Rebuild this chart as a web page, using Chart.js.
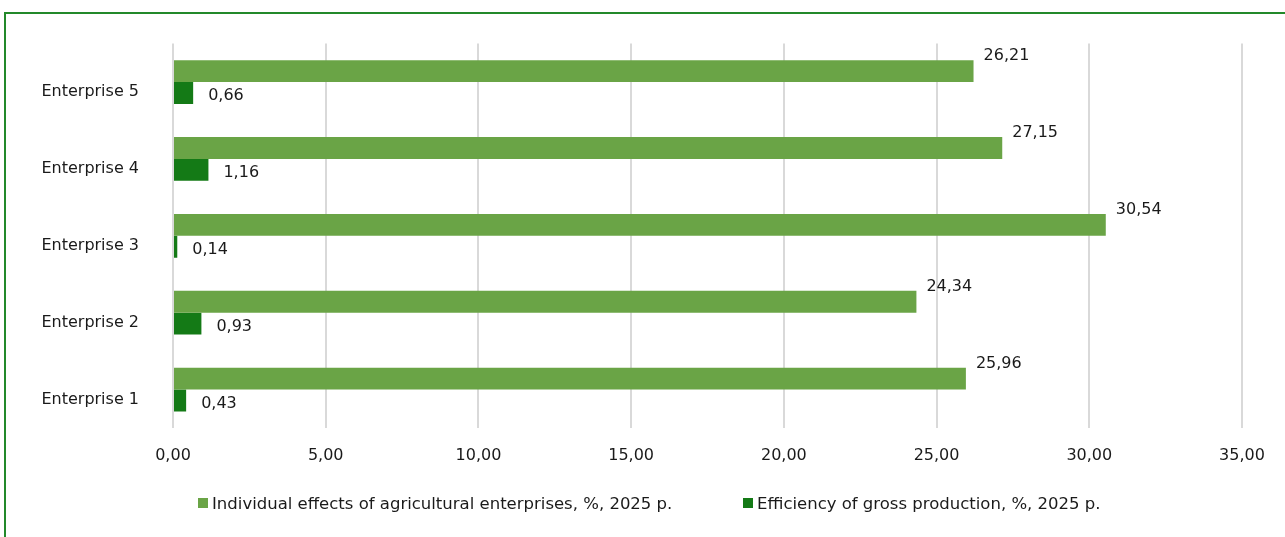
<!DOCTYPE html>
<html>
<head>
<meta charset="utf-8">
<script src="https://cdn.jsdelivr.net/npm/chart.js@4.4.1/dist/chart.umd.min.js"></script>
<style>
  html, body { margin: 0; padding: 0; background: #fff; overflow: hidden; }
  #wrap { position: relative; width: 1285px; height: 537px; }
  #frame { position: absolute; left: 4px; top: 12px; width: 1400px; height: 700px;
           border-left: 2px solid #23892a; border-top: 2px solid #23892a; box-sizing: border-box; }
  #chart { position: absolute; left: 0; top: 0; }
  #legend { position: absolute; top: 493px; left: 0; width: 1285px; height: 20px;
            font: 16.5px "DejaVu Sans", sans-serif; color: #1a1a1a; }
  .lg-item { position: absolute; top: 0; display: flex; align-items: center; height: 20px; white-space: nowrap; }
  .lg-box { width: 10px; height: 10px; margin-right: 4px; }
</style>
</head>
<body>
<div id="wrap">
  <div id="frame"></div>
  <canvas id="chart" width="1285" height="537"></canvas>
  <div id="legend"></div>
</div>
<script>
// categories, top to bottom as in the picture
const categories = ['Enterprise 5', 'Enterprise 4', 'Enterprise 3', 'Enterprise 2', 'Enterprise 1'];
const individualEffects = [26.21, 27.15, 30.54, 24.34, 25.96];
const grossEfficiency = [0.66, 1.16, 0.14, 0.93, 0.43];
const xTicks = [0, 5, 10, 15, 20, 25, 30, 35];

const seriesNames = [
    'Individual effects of agricultural enterprises, %, 2025 p.',
    'Efficiency of gross production, %, 2025 p.'
];
const seriesColors = ['#6aa446', '#147a16'];

const FONT = '"DejaVu Sans", sans-serif';
const fmt = v => v.toFixed(2).replace('.', ',');

// value labels next to the bar ends
const valueLabels = {
    id: 'valueLabels',
    afterDatasetsDraw(chart) {
        const ctx = chart.ctx;
        ctx.save();
        ctx.font = '16px ' + FONT;
        ctx.fillStyle = '#1a1a1a';
        ctx.textAlign = 'left';
        ctx.textBaseline = 'middle';
        chart.data.datasets.forEach((ds, di) => {
            const meta = chart.getDatasetMeta(di);
            const dx = di === 0 ? 10 : 15;
            const dy = di === 0 ? -15 : 3;
            meta.data.forEach((bar, i) => {
                ctx.fillText(fmt(ds.data[i]), bar.x + dx, bar.y + dy);
            });
        });
        ctx.restore();
    }
};

const chart = new Chart(document.getElementById('chart'), {
    type: 'bar',
    data: {
        labels: categories,
        datasets: [
            { label: seriesNames[0], data: individualEffects, backgroundColor: seriesColors[0] },
            { label: seriesNames[1], data: grossEfficiency, backgroundColor: seriesColors[1] }
        ]
    },
    options: {
        indexAxis: 'y',
        responsive: false,
        animation: false,
        categoryPercentage: 0.57,
        barPercentage: 1,
        layout: { padding: { top: 43, right: 43, bottom: 69, left: 0 } },
        plugins: {
            legend: { display: false },
            tooltip: { enabled: false }
        },
        scales: {
            x: {
                min: 0, max: 35,
                afterBuildTicks: s => { s.ticks = xTicks.map(v => ({ value: v })); },
                afterFit: s => { s.height = 40; },
                grid: { color: '#d9d9d9', lineWidth: 2, drawTicks: false },
                border: { display: false },
                ticks: {
                    padding: 18,
                    color: '#1a1a1a',
                    font: { family: FONT, size: 16 },
                    callback: v => fmt(v)
                }
            },
            y: {
                afterFit: s => { s.width = 173; },
                grid: { display: false, drawTicks: false },
                border: { display: false },
                ticks: {
                    padding: 34,
                    crossAlign: 'center',
                    labelOffset: 10,
                    color: '#1a1a1a',
                    font: { family: FONT, size: 16 }
                }
            }
        }
    },
    plugins: [valueLabels]
});

// legend in html, from the chart's datasets
const legendEl = document.getElementById('legend');
const legendX = [198, 743];
chart.data.datasets.forEach((ds, i) => {
    const item = document.createElement('div');
    item.className = 'lg-item';
    item.style.left = legendX[i] + 'px';
    item.innerHTML = `<span class="lg-box" style="background:${ds.backgroundColor}"></span><span>${ds.label}</span>`;
    legendEl.appendChild(item);
});
</script>
</body>
</html>
